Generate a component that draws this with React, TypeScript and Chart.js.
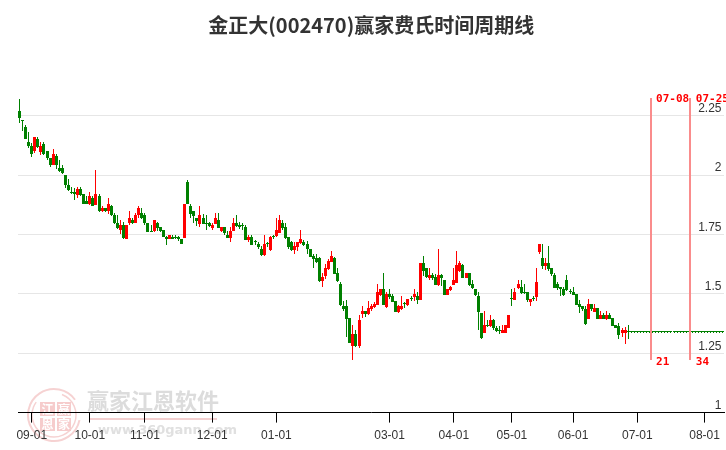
import React, { useEffect, useRef } from "react";
import { Chart, registerables } from "chart.js";

Chart.register(...registerables);

const pendingDays = [
  1.34, 1.34, 1.34, 1.34, 1.34, 1.34, 1.34, 1.34, 1.34, 1.34, 1.34, 1.34, 1.34, 1.34, 1.34, 1.34,
  1.34, 1.34, 1.34, 1.34, 1.34, 1.34, 1.34, 1.34, 1.34, 1.34, 1.34, 1.34, 1.34, 1.34, 1.34,
];

const opens = [
  2.271,2.232,2.204,2.141,2.124,2.100,2.154,2.099,2.133,2.103,
  2.072,2.041,2.082,2.032,2.032,2.002,1.959,1.929,1.929,1.918,
  1.943,1.922,1.891,1.877,1.902,1.873,1.912,1.848,1.863,1.848,
  1.870,1.832,1.799,1.769,1.790,1.730,1.797,1.811,1.797,1.831,
  1.842,1.834,1.799,1.761,1.766,1.799,1.783,1.771,1.740,1.730,
  1.740,1.740,1.740,1.733,1.737,1.973,1.871,1.850,1.821,1.796,
  1.821,1.799,1.800,1.779,1.796,1.813,1.766,1.783,1.749,1.737,
  1.766,1.800,1.792,1.792,1.783,1.728,1.741,1.720,1.712,1.691,
  1.665,1.712,1.686,1.744,1.745,1.758,1.800,1.783,1.741,1.720,
  1.686,1.699,1.716,1.720,1.712,1.691,1.661,1.653,1.653,1.556,
  1.577,1.606,1.636,1.653,1.589,1.543,1.451,1.451,1.400,1.279,
  1.333,1.279,1.417,1.429,1.417,1.438,1.445,1.453,1.497,1.522,
  1.446,1.501,1.493,1.472,1.425,1.438,1.459,1.455,1.480,1.488,
  1.493,1.476,1.632,1.610,1.568,1.581,1.573,1.539,1.581,1.560,
  1.497,1.518,1.539,1.547,1.598,1.623,1.568,1.589,1.543,1.522,
  1.493,1.421,1.337,1.369,1.366,1.392,1.358,1.348,1.337,1.337,
  1.358,1.480,1.476,1.526,1.530,1.509,1.509,1.467,1.480,1.488,
  1.678,1.653,1.619,1.632,1.610,1.581,1.543,1.530,1.522,1.560,
  1.509,1.509,1.501,1.459,1.451,1.438,1.396,1.459,1.425,1.442,
  1.396,1.413,1.396,1.413,1.400,1.371,1.366,1.337,1.337,1.341,
  ...pendingDays,
];

const closes = [
  2.239,2.229,2.151,2.121,2.088,2.162,2.120,2.124,2.089,2.071,
  2.041,2.090,2.041,2.019,2.008,1.957,1.939,1.926,1.919,1.943,
  1.918,1.877,1.877,1.912,1.869,1.921,1.848,1.863,1.848,1.880,
  1.832,1.797,1.779,1.790,1.737,1.792,1.820,1.797,1.834,1.863,
  1.820,1.797,1.759,1.759,1.811,1.779,1.766,1.738,1.730,1.749,
  1.730,1.737,1.730,1.709,1.880,1.877,1.838,1.828,1.808,1.834,
  1.796,1.796,1.787,1.792,1.821,1.779,1.783,1.758,1.737,1.766,
  1.800,1.787,1.783,1.787,1.728,1.741,1.707,1.717,1.699,1.665,
  1.712,1.709,1.741,1.741,1.770,1.813,1.779,1.737,1.699,1.686,
  1.703,1.720,1.733,1.707,1.691,1.657,1.648,1.636,1.556,1.573,
  1.610,1.640,1.661,1.585,1.556,1.455,1.437,1.396,1.295,1.333,
  1.279,1.392,1.429,1.417,1.442,1.451,1.458,1.509,1.522,1.455,
  1.501,1.488,1.467,1.425,1.451,1.451,1.458,1.480,1.477,1.501,
  1.476,1.632,1.598,1.573,1.581,1.568,1.539,1.581,1.568,1.497,
  1.522,1.530,1.560,1.623,1.632,1.568,1.589,1.539,1.526,1.497,
  1.425,1.316,1.371,1.366,1.392,1.358,1.345,1.345,1.350,1.371,
  1.413,1.477,1.509,1.543,1.505,1.505,1.476,1.480,1.477,1.552,
  1.711,1.619,1.632,1.606,1.585,1.526,1.526,1.522,1.497,1.518,
  1.507,1.497,1.455,1.446,1.438,1.375,1.459,1.438,1.442,1.396,
  1.413,1.396,1.413,1.396,1.366,1.358,1.328,1.350,1.350,1.338,
  ...pendingDays,
];

const highs = [
  2.322,2.232,2.212,2.183,2.134,2.162,2.162,2.141,2.138,2.103,
  2.072,2.111,2.090,2.062,2.044,2.002,1.982,1.951,1.945,1.951,
  1.951,1.922,1.912,1.930,1.912,2.023,1.921,1.872,1.863,1.902,
  1.876,1.842,1.834,1.813,1.804,1.792,1.850,1.821,1.842,1.872,
  1.863,1.841,1.799,1.790,1.811,1.801,1.783,1.771,1.742,1.749,
  1.749,1.749,1.742,1.733,1.880,1.981,1.880,1.850,1.821,1.871,
  1.838,1.834,1.804,1.800,1.842,1.842,1.783,1.783,1.766,1.783,
  1.821,1.834,1.804,1.800,1.792,1.749,1.749,1.728,1.720,1.703,
  1.749,1.720,1.745,1.749,1.821,1.834,1.813,1.800,1.741,1.724,
  1.720,1.720,1.770,1.728,1.724,1.691,1.669,1.669,1.657,1.589,
  1.627,1.648,1.682,1.657,1.610,1.552,1.472,1.473,1.400,1.371,
  1.350,1.413,1.451,1.429,1.472,1.459,1.467,1.543,1.522,1.589,
  1.509,1.522,1.501,1.472,1.455,1.493,1.467,1.480,1.493,1.522,
  1.509,1.632,1.661,1.610,1.610,1.589,1.585,1.690,1.585,1.560,
  1.522,1.535,1.610,1.682,1.640,1.627,1.589,1.589,1.560,1.522,
  1.509,1.421,1.429,1.392,1.413,1.396,1.366,1.366,1.371,1.371,
  1.413,1.522,1.526,1.560,1.560,1.543,1.509,1.480,1.493,1.610,
  1.711,1.711,1.653,1.703,1.610,1.589,1.552,1.530,1.530,1.581,
  1.522,1.530,1.501,1.476,1.451,1.451,1.480,1.459,1.459,1.442,
  1.429,1.421,1.429,1.421,1.400,1.371,1.379,1.358,1.362,1.371,
  ...pendingDays,
];

const lows = [
  2.221,2.184,2.151,2.113,2.075,2.092,2.114,2.083,2.086,2.062,
  2.033,2.041,2.024,2.012,2.003,1.945,1.932,1.922,1.894,1.902,
  1.914,1.877,1.877,1.873,1.869,1.873,1.843,1.843,1.843,1.835,
  1.829,1.796,1.773,1.751,1.733,1.730,1.792,1.794,1.797,1.821,
  1.817,1.792,1.759,1.759,1.762,1.766,1.762,1.738,1.705,1.730,
  1.730,1.730,1.721,1.709,1.737,1.877,1.821,1.800,1.787,1.783,
  1.796,1.770,1.783,1.770,1.796,1.779,1.762,1.749,1.737,1.720,
  1.766,1.783,1.775,1.770,1.728,1.720,1.707,1.707,1.691,1.661,
  1.661,1.699,1.682,1.733,1.741,1.758,1.770,1.733,1.691,1.682,
  1.669,1.682,1.712,1.703,1.669,1.657,1.610,1.632,1.552,1.531,
  1.564,1.602,1.636,1.585,1.552,1.451,1.430,1.320,1.295,1.220,
  1.275,1.271,1.400,1.401,1.413,1.429,1.441,1.453,1.493,1.455,
  1.442,1.480,1.467,1.425,1.421,1.434,1.442,1.451,1.472,1.472,
  1.459,1.476,1.577,1.568,1.560,1.560,1.539,1.535,1.535,1.497,
  1.497,1.514,1.539,1.547,1.594,1.568,1.568,1.535,1.522,1.493,
  1.350,1.312,1.337,1.362,1.362,1.350,1.341,1.333,1.337,1.337,
  1.358,1.451,1.476,1.522,1.501,1.501,1.467,1.451,1.472,1.472,
  1.669,1.606,1.602,1.598,1.577,1.526,1.518,1.493,1.493,1.514,
  1.501,1.497,1.455,1.421,1.429,1.371,1.396,1.429,1.425,1.396,
  1.396,1.396,1.392,1.396,1.366,1.358,1.312,1.320,1.291,1.312,
  ...pendingDays,
];

const tickDays = [4, 23, 41, 63, 84, 121, 142, 161, 181, 202, 224];
const tickLabels = ["09-01", "10-01", "11-01", "12-01", "01-01", "03-01", "04-01", "05-01", "06-01", "07-01", "08-01"];
const priceTicks = [1, 1.25, 1.5, 1.75, 2, 2.25];

const cycleDays = [206, 219];
const cycleDates = ["07-08", "07-25"];
const cycleCounts = ["21", "34"];
const cycleTop = 2.323;
const cycleBottom = 1.223;

const RED = "#ff0000";
const GREEN = "#008000";
const CJK = '"Noto Sans CJK SC"';

const snapBars = {
  id: "snapBars",
  afterDatasetsUpdate(chart: any) {
    chart.data.datasets.forEach((ds: any, i: number) => {
      const odd = ds.barThickness % 2 === 1;
      chart.getDatasetMeta(i).data.forEach((el: any) => {
        el.x = odd ? Math.floor(el.x) + 0.5 : Math.round(el.x) + 1;
        const a = Math.round(el.y);
        const b = Math.round(el.base);
        el.y = a;
        el.base = a === b ? a + 1 : b;
      });
    });
  },
};

const watermark = {
  id: "watermark",
  beforeDraw(chart: any) {
    const c = chart.ctx;
    c.save();
    c.strokeStyle = "#f6d2d2";
    c.lineWidth = 2;
    c.beginPath();
    c.arc(54, 415, 26, 0.2, Math.PI * 1.8);
    c.stroke();
    c.lineWidth = 1.5;
    c.beginPath();
    c.arc(54, 415, 22, -1.2, Math.PI * 1.2);
    c.stroke();
    c.fillStyle = "#f6cccc";
    c.fillRect(40, 402, 15, 14);
    c.fillRect(57, 402, 14, 14);
    c.fillRect(40, 418, 15, 13);
    c.fillRect(57, 418, 14, 13);
    c.fillStyle = "#ffffff";
    c.font = `bold 12px ${CJK}`;
    c.textAlign = "center";
    c.textBaseline = "middle";
    c.fillText("江", 47.5, 409);
    c.fillText("赢", 64, 409);
    c.fillText("恩", 47.5, 424.5);
    c.fillText("家", 64, 424.5);
    c.fillStyle = "#dcdcdc";
    c.font = `bold 22px ${CJK}`;
    c.textAlign = "left";
    c.fillText("赢家江恩软件", 87, 401);
    c.fillStyle = "#f3d0d0";
    c.fillRect(90, 418, 127, 2);
    c.fillStyle = "#e0e0e0";
    c.font = 'bold 13px "DejaVu Sans"';
    c.fillText("www.360gann.com", 98, 431);
    c.restore();
  },
};

const cycleText = {
  id: "cycleText",
  afterDraw(chart: any) {
    const c = chart.ctx;
    const xs = chart.scales.x;
    const ys = chart.scales.y;
    c.save();
    c.fillStyle = RED;
    c.font = 'bold 11px "DejaVu Sans Mono"';
    c.textAlign = "left";
    c.textBaseline = "middle";
    cycleDays.forEach((d, i) => {
      const x = xs.getPixelForValue(d);
      c.fillText(cycleDates[i], x + 6.5, ys.getPixelForValue(cycleTop) + 1);
      c.fillText(cycleCounts[i], x + 6.5, ys.getPixelForValue(cycleBottom) + 2);
    });
    c.restore();
  },
};

export default function App() {
  const ref = useRef<HTMLCanvasElement | null>(null);
  useEffect(() => {
    const colors = opens.map((o, i) => (closes[i] > o ? RED : GREEN));
    const chart = new Chart(ref.current as HTMLCanvasElement, {
      type: "bar",
      data: {
        labels: opens.map((_, i) => String(i)),
        datasets: [
          {
            data: opens.map((_, i) => {
              const k = cycleDays.indexOf(i);
              return k >= 0 ? [cycleBottom, cycleTop] : null;
            }),
            backgroundColor: "#fa8c8c",
            barThickness: 2,
          },
          {
            data: opens.map((o, i) => [o, closes[i]]),
            backgroundColor: colors,
            barThickness: 3,
            minBarLength: 1,
          },
          {
            data: highs.map((h, i) => [lows[i], h]),
            backgroundColor: colors,
            barThickness: 1,
          },
        ] as any,
      },
      plugins: [snapBars, watermark, cycleText],
      options: {
        responsive: false,
        animation: false,
        devicePixelRatio: 1,
        layout: { padding: { left: 18, right: 0, top: 0, bottom: 1 } },
        datasets: { bar: { grouped: false, borderWidth: 0, inflateAmount: 0 } },
        plugins: {
          legend: { display: false },
          tooltip: { enabled: false },
          title: {
            display: true,
            fullSize: false,
            text: "金正大(002470)赢家费氏时间周期线",
            color: "#333333",
            font: { family: CJK, size: 20, weight: "bold", lineHeight: 1.2 },
            padding: { top: 13, bottom: 43.2 },
          },
        },
        scales: {
          x: {
            type: "category",
            offset: true,
            afterBuildTicks(scale: any) {
              scale.ticks = tickDays.map((v) => ({ value: v }));
            },
            grid: { offset: false, drawOnChartArea: false, drawTicks: true, tickLength: 10, color: "#000000" },
            border: { display: true, color: "#000000" },
            ticks: {
              autoSkip: false,
              maxRotation: 0,
              padding: 6,
              color: "#333333",
              font: { family: '"Liberation Sans"', size: 12 },
              callback(value: any) {
                return tickLabels[tickDays.indexOf(value)];
              },
            },
          },
          y: {
            type: "linear",
            position: "right",
            min: 1,
            max: 2.4,
            afterBuildTicks(scale: any) {
              scale.ticks = priceTicks.map((v) => ({ value: v }));
            },
            afterFit(scale: any) {
              scale.width = 0;
            },
            grid: { color: "#e6e6e6", drawTicks: false },
            border: { display: false },
            ticks: {
              mirror: true,
              padding: -3,
              labelOffset: -7,
              color: "#333333",
              font: { family: '"Liberation Sans"', size: 12 },
              callback(value: any) {
                return String(value);
              },
            },
          },
        },
      } as any,
    });
    return () => chart.destroy();
  }, []);
  return (
    <div style={{ position: "absolute", left: 0, top: 0, width: 726, height: 450 }}>
      <canvas ref={ref} width={726} height={450} style={{ display: "block" }} />
    </div>
  );
}
